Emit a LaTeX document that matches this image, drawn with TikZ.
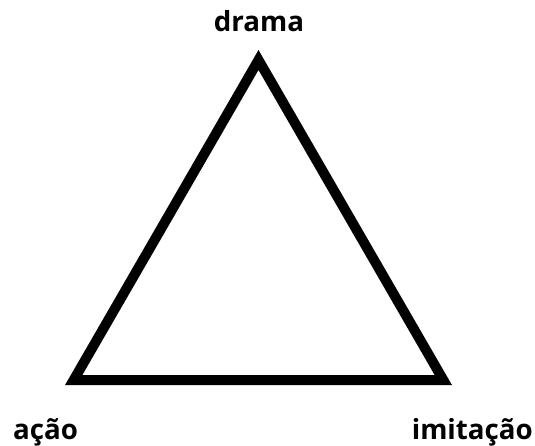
\documentclass[tikz,border=0pt]{standalone}
\usepackage{fontspec}
\setmainfont{Open Sans}
\begin{document}
\begin{tikzpicture}[
x=1pt, y=-1pt,
edge/.style={draw, line width=10pt, line join=miter},
every node/.style={font=\fontsize{27.7}{32}\selectfont\bfseries, inner sep=0pt}
]
\useasboundingbox (0,0) rectangle (535,446);
\coordinate (top) at (258.5,60);
\coordinate (left) at (73.7,380);
\coordinate (right) at (443.3,380);
\draw[edge] (top) -- (left) -- (right) -- cycle;
\node[anchor=base] (drama) at (259,32) {drama};
\node[anchor=base west] (acao) at (13,439) {ação};
\node[anchor=base east] (imitacao) at (533,439) {imitação};
\end{tikzpicture}
\end{document}
